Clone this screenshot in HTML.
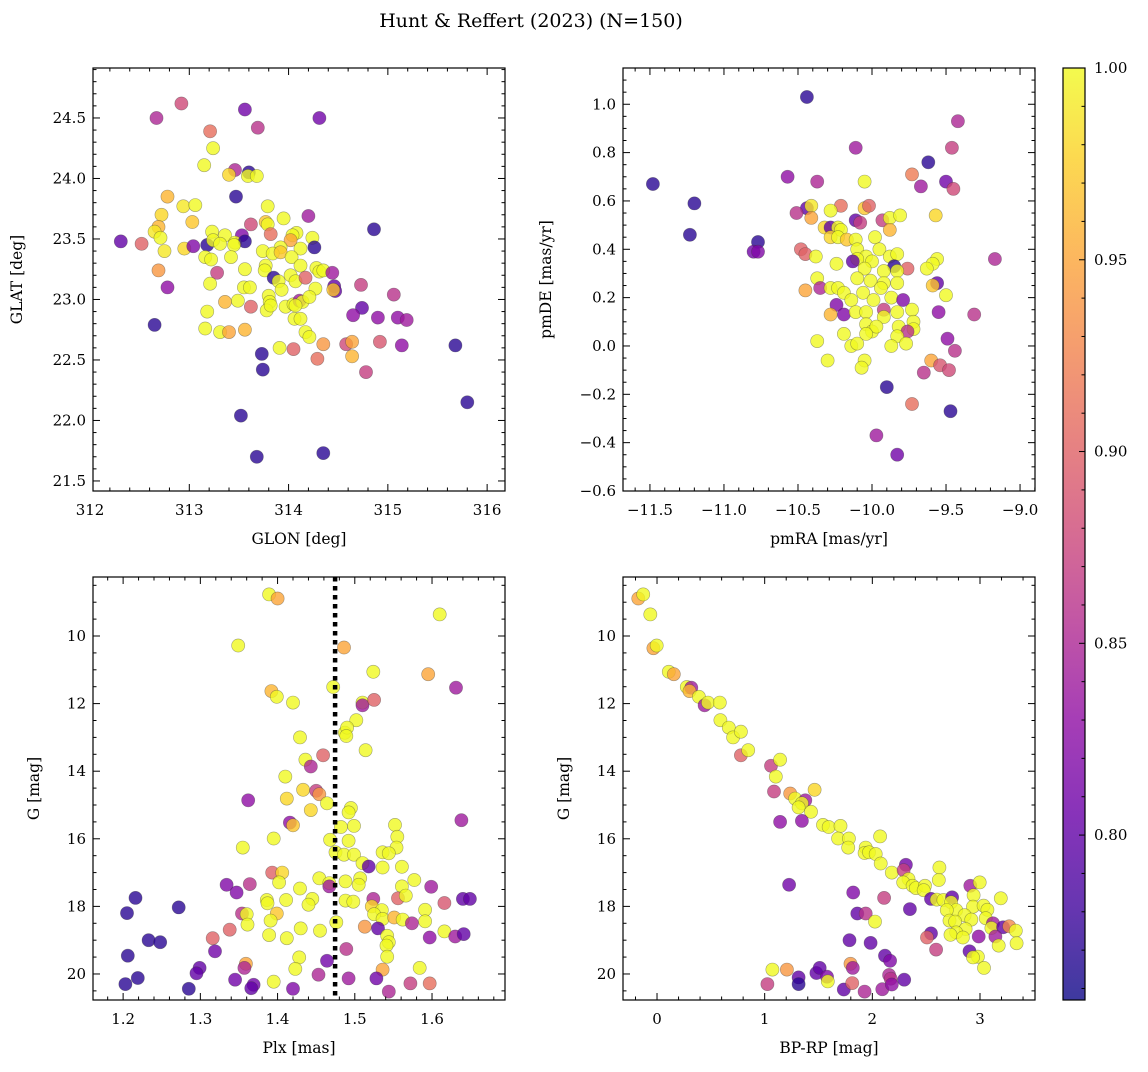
<!DOCTYPE html>
<html><head><meta charset="utf-8"><style>
html,body{margin:0;padding:0;background:#fff;}
svg text{font-family:"DejaVu Serif","Liberation Serif",serif;fill:#000;}
</style></head><body>
<svg id="chart" width="1148" height="1067" viewBox="0 0 1148 1067" xmlns="http://www.w3.org/2000/svg">
<rect width="1148" height="1067" fill="#fff"/>
<text x="531" y="27" font-size="19" text-anchor="middle">Hunt &amp; Reffert (2023) (N=150)</text>
<defs><linearGradient id="cbgrad" x1="0" y1="1" x2="0" y2="0"></linearGradient></defs>
</svg>
<script>
// ---- Panel 1: GLON vs GLAT ----
const glon=[312.92,312.67,313.56,314.31,313.69,313.21,313.24,313.15,313.46,313.40,313.60,313.59,313.68,313.47,312.78,312.94,313.06,313.79,312.72,313.03,313.95,314.20,313.62,313.77,313.79,312.69,312.65,312.71,314.86,313.82,313.23,313.36,313.53,314.08,314.04,314.02,314.24,312.31,312.52,312.75,312.95,313.04,313.18,313.24,313.31,313.46,313.56,313.45,314.26,313.74,313.92,314.12,313.16,313.22,313.42,313.84,313.92,314.03,312.69,313.28,313.56,313.77,313.76,313.85,313.90,314.02,314.07,314.12,314.17,314.28,314.31,314.35,314.44,312.78,313.21,313.55,313.61,313.80,313.93,314.27,314.46,314.47,314.45,314.73,315.06,313.36,313.49,313.81,313.97,314.05,314.11,314.14,314.21,314.07,313.62,313.18,313.78,313.82,314.74,314.65,314.90,315.10,315.19,314.06,314.12,312.65,313.16,313.31,313.40,313.56,314.17,314.21,313.91,314.05,314.35,314.58,314.64,314.92,315.14,315.68,313.73,314.64,314.29,313.74,314.78,315.80,313.52,313.68,314.35];
const glat=[24.62,24.50,24.57,24.50,24.42,24.39,24.25,24.11,24.07,24.03,24.05,24.02,24.02,23.85,23.85,23.77,23.78,23.77,23.70,23.64,23.67,23.69,23.62,23.64,23.62,23.60,23.56,23.51,23.58,23.54,23.56,23.53,23.53,23.55,23.53,23.49,23.51,23.48,23.46,23.40,23.42,23.44,23.45,23.49,23.46,23.47,23.48,23.45,23.43,23.40,23.43,23.42,23.35,23.33,23.35,23.38,23.39,23.35,23.24,23.22,23.25,23.28,23.24,23.18,23.15,23.20,23.15,23.28,23.18,23.26,23.23,23.24,23.22,23.10,23.13,23.10,23.10,23.03,23.08,23.09,23.11,23.07,23.08,23.12,23.04,22.98,22.99,22.98,22.94,22.96,22.99,22.98,23.02,22.95,22.94,22.90,22.91,22.95,22.93,22.87,22.85,22.85,22.83,22.84,22.84,22.79,22.76,22.73,22.73,22.75,22.73,22.69,22.60,22.59,22.63,22.63,22.65,22.65,22.62,22.62,22.55,22.53,22.51,22.42,22.40,22.15,22.04,21.70,21.73];
const probTL=[.88,.85,.81,.81,.86,.91,1,1,.85,.98,.77,1,1,.77,.96,.99,1,1,.98,.97,1,.84,.88,.97,1,.96,.99,1,.77,.91,1,1,.82,1,1,.95,1,.80,.90,.99,.98,.82,.77,1,1,1,.77,1,.77,1,1,1,1,1,1,1,.97,1,.94,.87,1,1,1,.77,1,1,1,1,.90,1,1,1,.84,.83,1,1,1,1,1,1,.80,.80,.97,.87,.86,.96,1,1,1,1,.84,1,1,1,.90,1,1,1,.80,.83,.83,.83,.84,1,1,.77,1,1,.95,.96,1,1,1,.90,.94,.88,.95,.89,.83,.77,.77,.96,.91,.77,.87,.77,.77,.77,.77];
// ---- Panel 2: pmRA vs pmDE ----
const pmra=[-10.44,-9.42,-10.11,-9.46,-9.62,-9.73,-11.48,-10.57,-10.37,-10.05,-9.67,-9.50,-9.45,-11.20,-11.23,-10.77,-10.80,-10.77,-10.44,-10.41,-10.51,-10.41,-10.21,-10.28,-10.05,-10.02,-10.11,-10.08,-9.93,-9.88,-9.81,-9.88,-9.57,-10.32,-10.28,-10.23,-10.21,-10.28,-10.23,-10.17,-10.11,-9.98,-10.10,-10.48,-10.45,-10.38,-9.95,-9.88,-9.83,-10.04,-10.10,-10.00,-10.13,-10.24,-9.85,-9.76,-9.56,-9.59,-9.63,-9.83,-9.92,-10.05,-10.10,-10.37,-10.01,-9.92,-9.83,-9.56,-9.59,-10.35,-10.45,-10.28,-10.23,-10.19,-10.06,-9.94,-9.99,-10.14,-9.87,-9.79,-9.50,-10.24,-10.19,-10.28,-10.11,-10.04,-9.92,-9.92,-9.83,-9.73,-9.55,-9.31,-10.19,-10.04,-10.00,-9.97,-10.04,-9.82,-9.72,-9.72,-9.76,-9.83,-9.77,-9.87,-10.14,-10.10,-10.37,-9.49,-9.44,-10.30,-10.05,-10.07,-9.60,-9.65,-9.54,-9.48,-9.90,-9.73,-9.47,-9.97,-9.83,-9.17];
const pmde=[1.03,0.93,0.82,0.82,0.76,0.71,0.67,0.70,0.68,0.68,0.66,0.68,0.65,0.59,0.46,0.43,0.39,0.39,0.57,0.58,0.55,0.53,0.58,0.56,0.57,0.58,0.52,0.51,0.52,0.53,0.54,0.48,0.54,0.49,0.49,0.49,0.48,0.45,0.45,0.44,0.44,0.45,0.40,0.40,0.38,0.37,0.40,0.37,0.38,0.37,0.36,0.35,0.35,0.34,0.33,0.32,0.36,0.34,0.32,0.31,0.31,0.32,0.28,0.28,0.27,0.26,0.26,0.26,0.25,0.24,0.23,0.24,0.24,0.22,0.22,0.24,0.19,0.19,0.20,0.19,0.21,0.17,0.13,0.13,0.14,0.14,0.15,0.12,0.14,0.15,0.14,0.13,0.05,0.09,0.06,0.08,0.05,0.08,0.10,0.07,0.06,0.04,0.01,0.00,0.00,0.01,0.02,0.03,-0.02,-0.06,-0.06,-0.09,-0.06,-0.11,-0.08,-0.10,-0.17,-0.24,-0.27,-0.37,-0.45,0.36];
const probTR=[.77,.85,.84,.87,.77,.92,.77,.83,.85,1,.84,.81,.88,.77,.77,.77,.81,.82,.80,.99,.86,.95,.91,1,.97,.90,.80,.87,.87,1,1,.96,.98,.98,.80,1,1,.98,1,.97,1,1,1,.90,.90,1,1,1,1,1,1,1,.80,1,.77,.90,1,1,1,1,1,1,1,1,1,1,1,.80,.97,.85,.95,1,1,1,1,1,1,1,1,.82,1,.82,.82,.96,1,1,.87,1,1,1,.83,.86,1,1,1,1,1,1,1,1,.86,1,1,1,1,1,1,.83,.86,1,1,1,.95,.86,.89,.88,.77,.91,.77,.84,.81,.85];
// ---- Panel 3: Plx vs G ----
const plx=[1.389,1.400,1.610,1.349,1.486,1.524,1.595,1.631,1.472,1.392,1.399,1.420,1.510,1.510,1.525,1.502,1.487,1.490,1.489,1.429,1.514,1.459,1.436,1.443,1.410,1.433,1.450,1.454,1.412,1.362,1.464,1.443,1.495,1.492,1.416,1.420,1.482,1.499,1.552,1.638,1.555,1.492,1.395,1.355,1.554,1.468,1.475,1.486,1.499,1.536,1.544,1.510,1.518,1.536,1.561,1.393,1.406,1.402,1.334,1.347,1.364,1.454,1.467,1.467,1.488,1.507,1.505,1.577,1.561,1.599,1.429,1.216,1.272,1.205,1.386,1.387,1.411,1.445,1.440,1.488,1.498,1.524,1.556,1.566,1.616,1.640,1.649,1.522,1.535,1.525,1.536,1.551,1.562,1.591,1.591,1.574,1.354,1.360,1.399,1.391,1.361,1.476,1.513,1.530,1.430,1.455,1.616,1.338,1.316,1.389,1.412,1.542,1.597,1.630,1.641,1.233,1.248,1.319,1.544,1.541,1.542,1.489,1.206,1.428,1.464,1.359,1.357,1.423,1.299,1.295,1.536,1.584,1.219,1.345,1.453,1.492,1.528,1.395,1.203,1.285,1.369,1.366,1.420,1.544,1.572,1.597];
const gmagBL=[8.77,8.89,9.36,10.28,10.34,11.06,11.13,11.53,11.51,11.63,11.80,11.97,11.97,12.05,11.89,12.49,12.86,12.71,12.96,13.00,13.38,13.53,13.66,13.86,14.16,14.55,14.58,14.68,14.81,14.86,14.95,15.15,15.09,15.22,15.52,15.60,15.65,15.62,15.59,15.45,15.94,16.06,15.99,16.26,16.26,16.03,16.40,16.47,16.47,16.40,16.43,16.72,16.82,16.85,16.83,17.00,17.00,17.29,17.36,17.59,17.34,17.17,17.31,17.41,17.26,17.17,17.36,17.22,17.41,17.42,17.47,17.75,18.03,18.20,17.81,17.91,17.81,17.78,17.95,17.83,17.86,17.78,17.76,17.68,17.90,17.78,17.78,18.00,18.11,18.23,18.37,18.33,18.39,18.10,18.44,18.50,18.21,18.23,18.21,18.42,18.54,18.47,18.60,18.65,18.65,18.72,18.74,18.69,18.94,18.85,18.94,18.87,18.92,18.89,18.82,19.00,19.06,19.33,19.06,19.16,19.49,19.26,19.46,19.51,19.61,19.70,19.82,19.85,19.82,19.98,19.87,19.82,20.12,20.17,20.02,20.13,20.13,20.23,20.30,20.44,20.32,20.42,20.44,20.52,20.28,20.28];
const probBL=[1,.95,1,1,.95,1,.95,.84,1,.96,1,1,1,.84,.90,1,1,1,1,1,1,.90,1,.85,1,.98,.87,.94,.98,.83,1,.98,1,1,.83,.97,1,1,1,.84,1,1,1,1,1,1,1,1,1,1,1,1,.80,1,1,.90,.98,1,.82,.82,.86,1,1,.84,1,1,1,1,1,.84,1,.77,.77,.77,1,1,1,1,1,1,1,.85,.90,1,.89,.80,.80,.98,1,1,1,.96,1,1,1,.85,.86,1,.97,1,1,1,.94,.80,1,1,1,.90,.90,1,1,1,.83,.84,.80,.77,.77,.81,1,1,1,.86,.77,1,.81,.95,.85,1,.80,.80,.95,1,.77,.81,.85,.84,.81,1,.77,.77,.81,.80,.82,.85,.87,.91];
const plxRef=[1.4745];
// ---- Panel 4: BP-RP vs G ----
const bprp=[-0.174,-0.128,-0.062,-0.034,-0.003,0.109,0.156,0.277,0.318,0.302,0.389,0.442,0.474,0.583,0.589,0.667,0.707,0.779,0.779,0.847,1.059,1.143,1.103,1.087,1.237,1.283,1.377,1.346,1.315,1.430,1.464,1.143,1.346,1.542,1.595,1.704,1.682,1.782,1.776,2.072,1.938,1.928,1.969,2.031,2.078,2.181,2.312,2.290,2.336,2.623,2.617,2.287,2.374,2.405,2.489,2.477,1.227,1.822,2.109,2.349,1.860,1.938,2.025,2.545,2.598,2.660,2.741,2.732,2.779,2.692,2.910,2.997,2.941,2.935,3.034,3.069,3.193,2.857,2.919,2.717,2.769,3.053,3.121,3.106,3.215,3.271,3.333,2.866,2.779,2.726,2.841,2.545,2.508,2.988,3.143,3.174,3.340,2.592,2.903,2.981,2.935,3.037,1.788,1.984,2.118,2.165,1.797,1.819,1.072,1.206,1.025,1.315,1.315,1.480,1.511,1.579,1.586,1.735,1.813,1.928,2.093,2.156,2.171,2.181,2.296];
const gmagBR=[8.89,8.77,9.36,10.36,10.28,11.06,11.13,11.51,11.53,11.63,11.80,12.05,11.97,11.97,12.49,12.71,13.00,12.83,13.53,13.38,13.84,13.66,14.16,14.60,14.66,14.81,14.86,14.95,15.07,15.20,14.55,15.50,15.47,15.59,15.65,15.62,15.99,15.99,16.26,15.93,16.26,16.42,16.40,16.45,16.73,17.00,16.77,16.93,17.19,16.85,17.22,17.29,17.39,17.46,17.39,17.52,17.36,17.59,17.75,18.08,18.21,18.21,18.45,17.78,17.80,17.81,17.73,17.88,18.11,18.11,17.39,17.29,17.67,18.01,17.98,18.10,17.76,18.26,18.39,18.42,18.45,18.35,18.50,18.64,18.62,18.59,18.72,18.67,18.77,18.84,18.92,18.80,18.92,18.89,18.89,19.16,19.09,19.28,19.33,19.49,19.51,19.82,19.00,19.08,19.46,19.61,19.70,19.82,19.87,19.87,20.30,20.10,20.30,19.97,19.82,20.08,20.22,20.46,20.27,20.52,20.45,20.03,20.14,20.31,20.17];
const probBR=[.95,1,1,.95,1,1,.95,1,.84,.96,1,.84,1,1,1,1,1,1,.90,1,.87,1,1,.87,.94,1,.84,1,1,1,.98,.83,.83,1,1,1,1,1,1,1,1,1,1,1,1,1,.81,.87,1,1,1,1,1,1,1,1,.81,.82,.87,.80,.80,.86,1,.80,1,1,.80,1,1,1,.84,1,1,1,1,1,1,1,1,1,1,1,.84,1,.80,.93,1,1,1,1,1,.80,.90,.83,.84,1,1,.87,.80,1,1,1,.80,.80,.80,.82,.94,.84,1,.94,.87,.80,.77,.80,.80,.82,1,.80,.90,.85,.84,.85,.86,.83,.80];
// ---- Colorbar ticks ----
const cbTicks=[0.80,0.85,0.90,0.95,1.00];
const cbRange=[0.757,1.0];

const NS='http://www.w3.org/2000/svg';
const svg=document.getElementById('chart');
function mk(tag,attrs,parent){const e=document.createElementNS(NS,tag);for(const k in attrs)e.setAttribute(k,attrs[k]);(parent||svg).appendChild(e);return e;}
const stops=[[13,8,135],[65,4,157],[106,0,168],[143,13,164],[177,42,144],[204,71,120],[225,100,98],[242,132,75],[252,166,54],[252,206,37],[240,249,33]];
function plasma(t){t=Math.max(0,Math.min(1,t));const f=t*10,i=Math.min(9,Math.floor(f)),r=f-i;const a=stops[i],b=stops[i+1];return 'rgb('+[0,1,2].map(k=>Math.round(a[k]+(b[k]-a[k])*r)).join(',')+')';}
function cnorm(p){return (p-cbRange[0])/(cbRange[1]-cbRange[0]);}
function fmt(v,d){const s=Math.abs(v).toFixed(d);return (v<-1e-9?'\u2212':'')+s;}

function panel(cfg){
  const g=mk('g',{});
  
  
  const X=v=>cfg.x0+(v-cfg.xd[0])/(cfg.xd[1]-cfg.xd[0])*(cfg.x1-cfg.x0);
  const Y=cfg.yinv?(v=>cfg.y0+(v-cfg.yd[0])/(cfg.yd[1]-cfg.yd[0])*(cfg.y1-cfg.y0)):(v=>cfg.y1-(v-cfg.yd[0])/(cfg.yd[1]-cfg.yd[0])*(cfg.y1-cfg.y0));
  // points
  const pg=mk('g',{},g);
  
  
  const n=Math.min(cfg.xs.length,cfg.ys.length,cfg.ps.length);
  for(let i=0;i<n;i++){
    const c=mk('circle',{cx:X(cfg.xs[i]).toFixed(1),cy:Y(cfg.ys[i]).toFixed(1),r:6.6,fill:plasma(cnorm(cfg.ps[i])),'fill-opacity':0.8,stroke:'#3a3a3a','stroke-opacity':0.45,'stroke-width':0.6},pg);
    
    
  }
  if(cfg.extra)cfg.extra(g,X,Y);
  // frame
  const fr=mk('rect',{x:cfg.x0,y:cfg.y0,width:cfg.x1-cfg.x0,height:cfg.y1-cfg.y0,fill:'none',stroke:'#000','stroke-width':1.2},g);
  
  
  // ticks
  const tg=mk('g',{stroke:'#000','stroke-width':1},g);
  
  
  const eps=1e-6;
  for(let v=Math.ceil(cfg.xd[0]/cfg.xmin-eps)*cfg.xmin;v<=cfg.xd[1]+eps;v+=cfg.xmin){
    const major=Math.abs(v/cfg.xmaj-Math.round(v/cfg.xmaj))<1e-4;const L=major?7:3.5;const px=X(v);
    mk('line',{x1:px,x2:px,y1:cfg.y1,y2:cfg.y1-L},tg);mk('line',{x1:px,x2:px,y1:cfg.y0,y2:cfg.y0+L},tg);
  }
  for(let v=Math.ceil(cfg.yd[0]/cfg.ymin-eps)*cfg.ymin;v<=cfg.yd[1]+eps;v+=cfg.ymin){
    const major=Math.abs(v/cfg.ymaj-Math.round(v/cfg.ymaj))<1e-4;const L=major?7:3.5;const py=Y(v);
    mk('line',{x1:cfg.x0,x2:cfg.x0+L,y1:py,y2:py},tg);mk('line',{x1:cfg.x1,x2:cfg.x1-L,y1:py,y2:py},tg);
  }
  cfg.xticks.forEach(v=>{const t=mk('text',{x:X(v),y:cfg.y1+24,'font-size':15,'text-anchor':'middle'},g);t.textContent=fmt(v,cfg.xdec);
    
    });
  cfg.yticks.forEach(v=>{const t=mk('text',{x:cfg.x0-7,y:Y(v)+5,'font-size':15,'text-anchor':'end'},g);t.textContent=fmt(v,cfg.ydec);
    
    });
  const xl=mk('text',{x:(cfg.x0+cfg.x1)/2,y:cfg.y1+53,'font-size':15.5,'text-anchor':'middle'},g);xl.textContent=cfg.xlabel;
  
  
  const yx=cfg.ylx,yy=(cfg.y0+cfg.y1)/2;
  const yl=mk('text',{x:yx,y:yy,'font-size':15.5,'text-anchor':'middle',transform:'rotate(-90 '+yx+' '+yy+')'},g);yl.textContent=cfg.ylabel;
  
  
}

panel({name:'panel-glon-glat',x0:93,x1:505,y0:68,y1:491,xd:[312.03,316.18],yd:[21.417,24.913],xs:glon,ys:glat,ps:probTL,
  xmaj:1,xmin:0.2,ymaj:0.5,ymin:0.1,xticks:[312,313,314,315,316],yticks:[21.5,22,22.5,23,23.5,24,24.5],xdec:0,ydec:1,xlabel:'GLON [deg]',ylabel:'GLAT [deg]',ylx:22});
panel({name:'panel-pm',x0:623,x1:1035,y0:68,y1:491,xd:[-11.682,-8.899],yd:[-0.6,1.15],xs:pmra,ys:pmde,ps:probTR,
  xmaj:0.5,xmin:0.1,ymaj:0.2,ymin:0.05,xticks:[-11.5,-11,-10.5,-10,-9.5,-9],yticks:[-0.6,-0.4,-0.2,0,0.2,0.4,0.6,0.8,1.0],xdec:1,ydec:1,xlabel:'pmRA [mas/yr]',ylabel:'pmDE [mas/yr]',ylx:551});
panel({name:'panel-plx-g',x0:93,x1:505,y0:577,y1:1000,xd:[1.161,1.6945],yd:[8.254,20.77],yinv:true,xs:plx,ys:gmagBL,ps:probBL,
  xmaj:0.1,xmin:0.02,ymaj:2,ymin:0.5,xticks:[1.2,1.3,1.4,1.5,1.6],yticks:[10,12,14,16,18,20],xdec:1,ydec:0,xlabel:'Plx [mas]',ylabel:'G [mag]',ylx:39,
  extra:(g,X,Y)=>{plxRef.forEach(v=>{const l=mk('line',{x1:X(v),x2:X(v),y1:577,y2:1000,stroke:'#000','stroke-width':4.5,'stroke-dasharray':'4.5 4.5'},g);
    
    });}});
panel({name:'panel-cmd',x0:623,x1:1035,y0:577,y1:1000,xd:[-0.316,3.511],yd:[8.254,20.77],yinv:true,xs:bprp,ys:gmagBR,ps:probBR,
  xmaj:1,xmin:0.2,ymaj:2,ymin:0.5,xticks:[0,1,2,3],yticks:[10,12,14,16,18,20],xdec:0,ydec:0,xlabel:'BP-RP [mag]',ylabel:'G [mag]',ylx:569});

// colorbar
const grad=document.getElementById('cbgrad');
for(let k=0;k<=20;k++){const s=document.createElementNS(NS,'stop');s.setAttribute('offset',(k/20));s.setAttribute('stop-color',plasma(k/20));grad.appendChild(s);}
const cb=mk('g',{});


const cx0=1063,cx1=1085,cy0=68,cy1=1000;
const CY=v=>cy1-(v-cbRange[0])/(cbRange[1]-cbRange[0])*(cy1-cy0);
mk('rect',{x:cx0,y:cy0,width:cx1-cx0,height:cy1-cy0,fill:'url(#cbgrad)','fill-opacity':0.8},cb);
mk('rect',{x:cx0,y:cy0,width:cx1-cx0,height:cy1-cy0,fill:'none',stroke:'#000','stroke-width':1.2},cb);
for(let v=0.76;v<=1.0001;v+=0.01){const major=cbTicks.some(t=>Math.abs(t-v)<1e-4);const L=major?6:3.5;const y=CY(v);
  mk('line',{x1:cx1,x2:cx1-L,y1:y,y2:y,stroke:'#000','stroke-width':1},cb);}
cbTicks.forEach(v=>{const t=mk('text',{x:cx1+9,y:CY(v)+5,'font-size':15},cb);t.textContent=v.toFixed(2);
  
  });
</script>
</body></html>
